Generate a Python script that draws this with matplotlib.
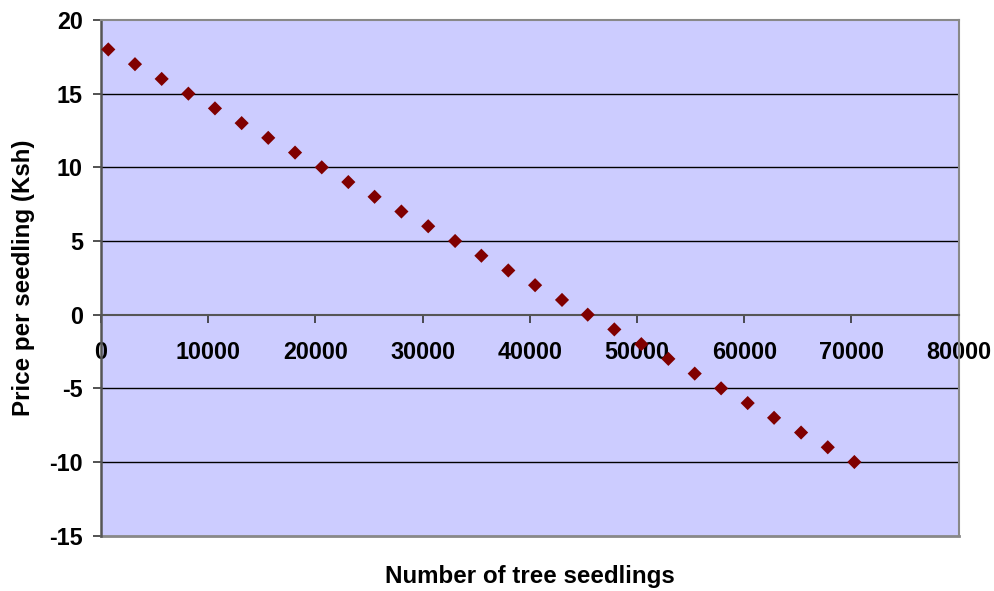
import matplotlib
matplotlib.use("Agg")
import matplotlib.pyplot as plt

# Data: number of seedlings vs. price per seedling
seedlings = [680, 3170, 5660, 8150, 10630, 13120, 15600, 18100, 20590, 23070,
             25520, 28020, 30520, 33030, 35480, 37990, 40490, 43000, 45400,
             47880, 50400, 52920, 55380, 57840, 60320, 62780, 65300, 67790, 70270]
price = [18, 17, 16, 15, 14, 13, 12, 11, 10, 9, 8, 7, 6, 5, 4, 3, 2, 1, 0,
         -1, -2, -3, -4, -5, -6, -7, -8, -9, -10]

x_ticks = [0, 10000, 20000, 30000, 40000, 50000, 60000, 70000, 80000]
y_ticks = [-15, -10, -5, 0, 5, 10, 15, 20]

plt.rcParams["font.family"] = ["Liberation Sans", "DejaVu Sans"]
plt.rcParams["font.weight"] = "bold"
plt.rcParams["axes.unicode_minus"] = False

fig = plt.figure(figsize=(9.95, 5.91), dpi=100)
ax = fig.add_axes([0.1015, 0.0936, 0.862, 0.8726])
ax.set_facecolor("#CCCCFF")

# horizontal grid lines
for yv in y_ticks:
    if yv in (0, -15, 20):
        continue
    ax.axhline(yv, color="black", linewidth=1.0, zorder=1)

ax.scatter(seedlings, price, marker="D", s=52, color="#800000",
           edgecolors="none", zorder=3)

ax.set_xlim(0, 80000)
ax.set_ylim(-15, 20)
ax.set_xticks(x_ticks)
ax.set_yticks(y_ticks)
ax.set_xticklabels([str(v) for v in x_ticks])
ax.set_yticklabels([str(v) for v in y_ticks])

# x axis crosses at y=0, plot area frame in grey
ax.spines["bottom"].set_position(("data", 0))
ax.spines["bottom"].set_color("#555555")
ax.spines["bottom"].set_linewidth(1.5)
ax.spines["left"].set_color("#555555")
ax.spines["left"].set_linewidth(1.8)
ax.spines["right"].set_color("#888888")
ax.spines["right"].set_linewidth(1.5)
ax.spines["top"].set_color("#888888")
ax.spines["top"].set_linewidth(1.5)
ax.axhline(-15, color="#888888", linewidth=2.0, zorder=2, clip_on=False)

ax.tick_params(axis="x", direction="out", length=6, width=1.2,
               color="#333333", labelsize=16.8, pad=13)
ax.tick_params(axis="y", direction="out", length=6, width=1.2,
               color="#333333", labelsize=16.8, pad=7)
for lbl in ax.get_xticklabels() + ax.get_yticklabels():
    lbl.set_fontweight("bold")

ax.set_ylabel("Price per seedling (Ksh)", fontsize=17.4, fontweight="bold",
              labelpad=10)
fig.text(0.533, 0.0237, "Number of tree seedlings", ha="center", va="center",
         fontsize=17.4, fontweight="bold")

plt.savefig("out.png", dpi=100)
